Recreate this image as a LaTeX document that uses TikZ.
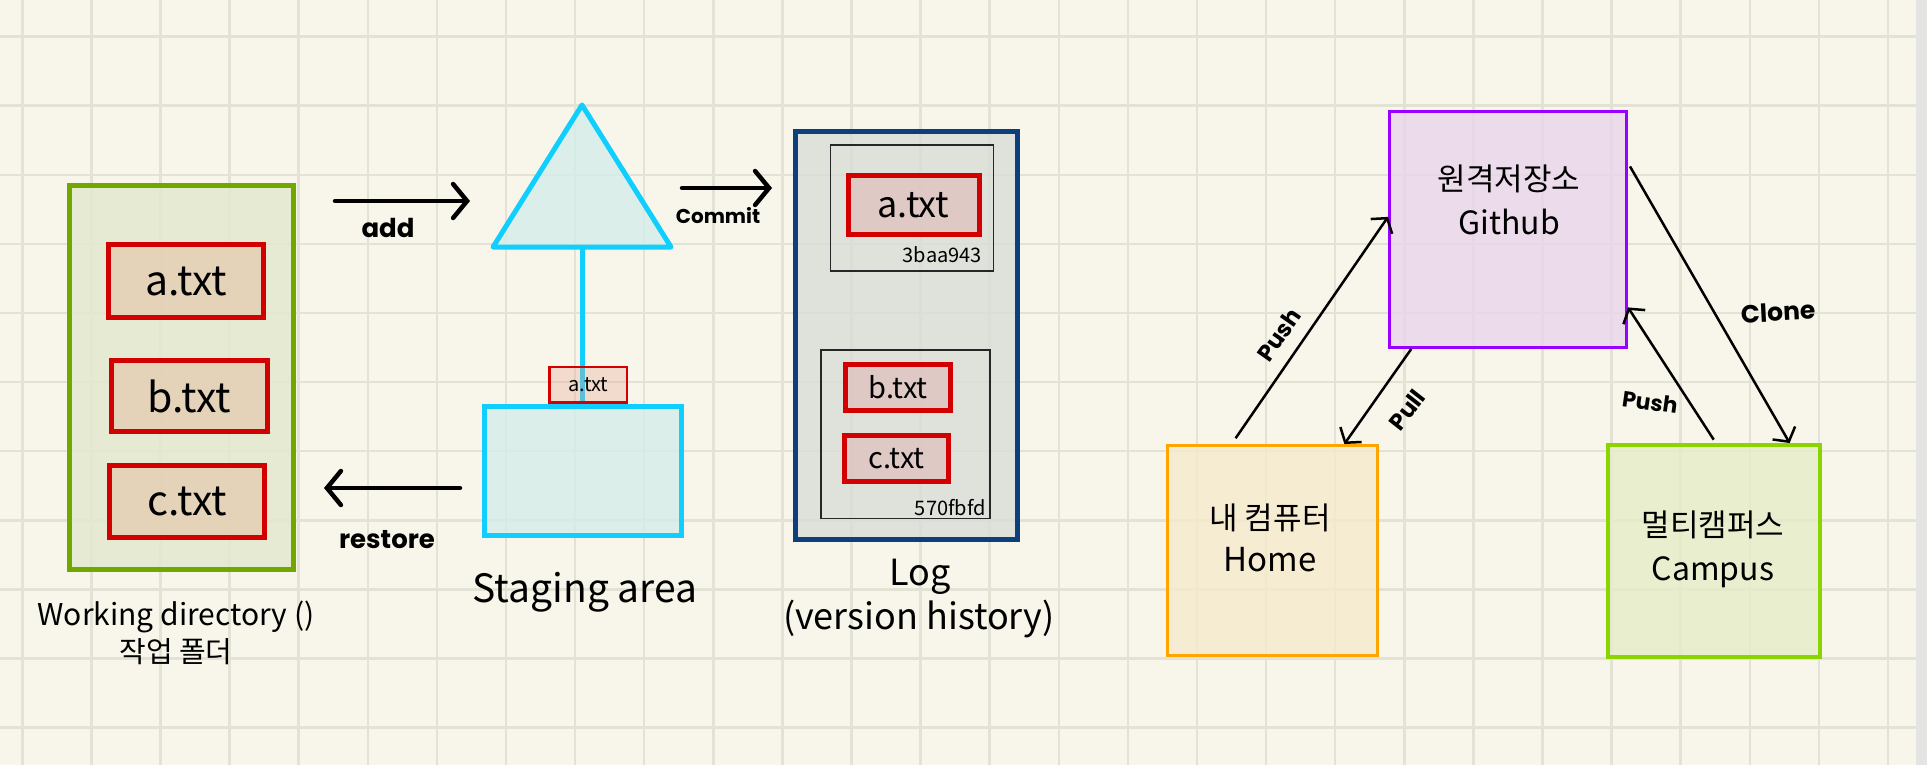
\documentclass[tikz,border=0pt]{standalone}
\usepackage{fontspec}
\setmainfont{Noto Sans CJK KR}
\newfontfamily\handfont{Poppins}
\usetikzlibrary{arrows.meta}
\newcommand\fsz[1]{\fontsize{#1}{#1}\selectfont}
\definecolor{paper}{HTML}{F8F6EA}
\definecolor{gridc}{HTML}{E3E3D5}
\definecolor{edgegrey}{HTML}{E4E4E2}
\definecolor{wdgreen}{HTML}{70A800}
\definecolor{wdfill}{HTML}{E3E8CC}
\definecolor{fred}{HTML}{D20000}
\definecolor{wdfile}{HTML}{E4CDB3}
\definecolor{cyanc}{HTML}{10CFFF}
\definecolor{cyanfill}{HTML}{D5EDE9}
\definecolor{stagefile}{HTML}{E7A697}
\definecolor{logblue}{HTML}{0D3F7D}
\definecolor{logfill}{HTML}{D9DDD8}
\definecolor{logfile}{HTML}{DFC3C0}
\definecolor{ghpurple}{HTML}{9900FF}
\definecolor{ghfill}{HTML}{E9D6EC}
\definecolor{homeorange}{HTML}{FFA500}
\definecolor{homefill}{HTML}{F6EACC}
\definecolor{campgreen}{HTML}{8CD400}
\definecolor{campfill}{HTML}{E4EDC8}
\begin{document}
\begin{tikzpicture}[x=1pt, y=-1pt,
  box/.style={draw, rectangle, inner sep=0pt, fill opacity=0.8, text opacity=1},
  filebox/.style={box, draw=fred, line width=5},
  commitbox/.style={draw=black!85, line width=1.2, rectangle, inner sep=0pt},
  lbl/.style={inner sep=0pt, anchor=base},
  handlbl/.style={inner sep=0pt, font=\handfont\bfseries\fsz{#1}},
  flowarrow/.style={line width=4.5, line cap=round, -{Straight Barb[length=14pt, width=34pt, line cap=round]}},
  syncarrow/.style={line width=2.5, -{Straight Barb[length=10pt, width=26pt]}}]
  \useasboundingbox (0,0) rectangle (1927,765);
  \fill[paper] (0,0) rectangle (1927,765);
  \foreach \i in {0,...,27}
    \draw[gridc, line width=2.5] ({22.3+69.1*\i},0) -- ({22.3+69.1*\i},765);
  \foreach \j in {0,...,10}
    \draw[gridc, line width=2.5] (0,{36.6+69.1*\j}) -- (1916,{36.6+69.1*\j});
  \fill[edgegrey] (1916,0) rectangle (1927,765);

  % working directory
  \node[box, draw=wdgreen, fill=wdfill, line width=5, minimum width=224, minimum height=384] (wd) at (181.5,377.5) {};
  \node[filebox, fill=wdfile, minimum width=155, minimum height=73, font=\fsz{41}] (wd-a) at (186,281) {a.txt};
  \node[filebox, fill=wdfile, minimum width=156, minimum height=71, font=\fsz{41}] (wd-b) at (189,396) {b.txt};
  \node[filebox, fill=wdfile, minimum width=155, minimum height=72, font=\fsz{41}] (wd-c) at (187,501.5) {c.txt};
  \node[lbl, font=\fsz{30}] (wd-en) at (176,625) {Working directory ()};
  \node[lbl, font=\fsz{29}] (wd-kr) at (176,662) {작업 폴더};

  % staging area
  \coordinate (tri-t) at (582,105);
  \coordinate (tri-l) at (493,247);
  \coordinate (tri-r) at (671,247);
  \coordinate (tri-b) at (582,247);
  \draw[cyanc, fill=cyanfill, fill opacity=0.8, line width=5, line join=round] (tri-t) -- (tri-r) -- (tri-l) -- cycle;
  \node[box, draw=cyanc, fill=cyanfill, line width=5, minimum width=197, minimum height=129] (stage) at (583,471) {};
  \draw[cyanc, line width=5] (tri-b) -- (tri-b |- stage.north);
  \node[box, draw=fred, fill=stagefile, fill opacity=0.35, line width=2.5, minimum width=77.5, minimum height=35.5, font=\fsz{20}] (stage-a) at (588.3,384.8) {a.txt};
  \node[lbl, font=\fsz{39}] (stage-lbl) at (585,602) {Staging area};

  % log
  \node[box, draw=logblue, fill=logfill, line width=5, minimum width=222.5, minimum height=408.5] (log) at (906.4,335.5) {};
  \node[commitbox, minimum width=163, minimum height=126] (c1) at (912.3,208) {};
  \node[filebox, fill=logfile, minimum width=131, minimum height=59.5, font=\fsz{36}] (c1-a) at (913.5,205.2) {a.txt};
  \node[inner sep=0pt, anchor=east, font=\fsz{20}] (c1-hash) at (982,254.5) {3baa943};
  \node[commitbox, minimum width=169, minimum height=168.5] (c2) at (905.5,434.2) {};
  \node[filebox, fill=logfile, minimum width=105, minimum height=46, font=\fsz{29}] (c2-b) at (898,387.4) {b.txt};
  \node[filebox, fill=logfile, minimum width=104, minimum height=46, font=\fsz{29}] (c2-c) at (896.5,458.5) {c.txt};
  \node[inner sep=0pt, anchor=east, font=\fsz{20}] (c2-hash) at (986,508) {570fbfd};
  \node[lbl, font=\fsz{36}] (log-en) at (920,585) {Log};
  \node[lbl, font=\fsz{36}] (log-sub) at (919,629) {(version history)};

  % arrows between the areas
  \coordinate (add-s) at (335,201);
  \coordinate (add-e) at (470,201);
  \coordinate (commit-s) at (682,188);
  \coordinate (commit-e) at (772,188);
  \coordinate (restore-s) at (460,488);
  \coordinate (restore-e) at (324,488);
  \draw[flowarrow] (add-s) -- (add-e);
  \draw[flowarrow] (commit-s) -- (commit-e);
  \draw[flowarrow] (restore-s) -- (restore-e);
  \node[handlbl=26] (add-lbl) at (388,228) {add};
  \node[handlbl=20] (commit-lbl) at (718,216) {Commit};
  \node[handlbl=26] (restore-lbl) at (387,540) {restore};

  % remote
  \node[box, draw=ghpurple, fill=ghfill, line width=3, minimum width=237, minimum height=236] (gh) at (1508,229.5) {};
  \node[box, draw=homeorange, fill=homefill, line width=3, minimum width=210, minimum height=210] (home) at (1272.5,550.5) {};
  \node[box, draw=campgreen, fill=campfill, line width=4, minimum width=212, minimum height=212] (camp) at (1714,551) {};
  \node[lbl, font=\fsz{31}] (gh-kr) at (1509,190) {원격저장소};
  \node[lbl, font=\fsz{32}] (gh-en) at (1509,234) {Github};
  \node[lbl, font=\fsz{31}] (home-kr) at (1270,529) {내 컴퓨터};
  \node[lbl, font=\fsz{33}] (home-en) at (1270,571) {Home};
  \node[lbl, font=\fsz{31}] (camp-kr) at (1713,536) {멀티캠퍼스};
  \node[lbl, font=\fsz{32}] (camp-en) at (1713,580) {Campus};

  \draw[syncarrow, shorten <=7pt] (home.111) -- (gh.174);
  \draw[syncarrow] (gh.231) -- (home.56);
  \draw[syncarrow, shorten <=4pt] (gh.29) -- (camp.55);
  \draw[syncarrow, shorten <=4pt] (camp.89) -- (gh.327);
  \node[handlbl=23, rotate=55] (push-home) at (1279,335) {Push};
  \node[handlbl=23, rotate=52] (pull-home) at (1407,410) {Pull};
  \node[handlbl=25, rotate=3] (clone-lbl) at (1778,312) {Clone};
  \node[handlbl=22, rotate=-8] (push-camp) at (1650,402) {Push};
\end{tikzpicture}
\end{document}
